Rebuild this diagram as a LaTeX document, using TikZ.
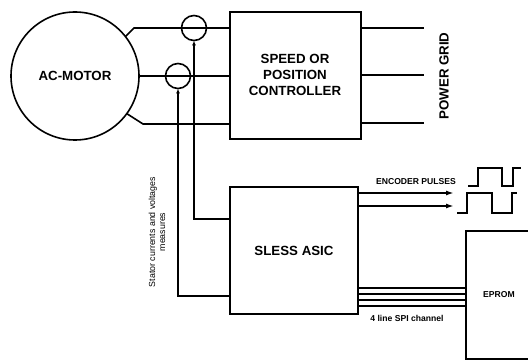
\documentclass[tikz,border=0pt]{standalone}
\usepackage{fontspec}
\setmainfont{Liberation Sans}
\usetikzlibrary{arrows.meta}
\begin{document}
\begin{tikzpicture}[x=1pt,y=-1pt,
  line width=1.6pt, line join=miter,
  box/.style={draw, rectangle, inner sep=0pt, outer sep=0pt},
  sensor/.style={draw, circle, minimum size=25pt, inner sep=0pt, outer sep=0pt},
  big/.style={font=\bfseries\fontsize{13.3}{16}\selectfont, align=center, inner sep=0pt},
  small/.style={font=\bfseries\fontsize{8.6}{10}\selectfont, inner sep=0pt},
  note/.style={font=\fontsize{8.8}{10}\selectfont, align=center, inner sep=0pt},
  sense/.style={-{Latex[length=5pt,width=4pt]}},
  enc/.style={-{Latex[length=8pt,width=5pt]}},
  wire/.style={}]
\useasboundingbox (0,0) rectangle (528,361);
\fill[white] (0,0) rectangle (528,361);

% blocks
\node[draw, circle, minimum size=128pt, inner sep=0pt, outer sep=0pt] (motor) at (75,76) {};
\node[big] (motorlabel) at (75,76) {AC-MOTOR};
\node[box, minimum width=131pt, minimum height=127pt] (ctrl) at (295.5,75.5) {};
\node[big] (ctrllabel) at (295,75) {SPEED OR\\POSITION\\CONTROLLER};
\node[box, minimum width=128pt, minimum height=127pt] (asic) at (294,250.5) {};
\node[big] (asiclabel) at (294,251) {SLESS ASIC};
\node[box, minimum width=80pt, minimum height=128pt] (eprom) at (506,295) {};
\node[small] (epromlabel) at (499,295) {EPROM};

% motor to controller wires
\coordinate (tA) at (134,28);
\coordinate (bA) at (143,124);
\draw[wire] (motor.38) -- (tA) -- (tA -| ctrl.west);
\draw[wire] (motor.east) -- (motor.east -| ctrl.west);
\draw[wire] (motor.-36) -- (bA) -- (bA -| ctrl.west);

% current sensors
\node[sensor] (s1) at (194,28) {};
\node[sensor] (s2) at (178,76) {};

% sensor feedback to ASIC
\coordinate (f1) at (230,219);
\coordinate (f2) at (230,296);
\draw[sense] (f1) -| (s1.south);
\draw[sense] (f2) -| (s2.south);

% power grid wires
\coordinate (g1) at (424,28);
\coordinate (g2) at (424,75);
\coordinate (g3) at (424,123);
\draw[wire] (ctrl.east |- g1) -- (g1);
\draw[wire] (ctrl.east |- g2) -- (g2);
\draw[wire] (ctrl.east |- g3) -- (g3);
\node[big, rotate=90] (gridlabel) at (444,76) {POWER GRID};

% encoder outputs
\coordinate (e1) at (454,193);
\coordinate (e2) at (454,206);
\draw[enc] (asic.east |- e1) -- (e1);
\draw[enc] (asic.east |- e2) -- (e2);
\node[small] (enclabel) at (416,181.5) {ENCODER PULSES};
\draw (468,186) -- (478,186) -- (478,168) -- (502,168) -- (502,186) -- (513,186) -- (513,168) -- (521,168);
\draw (457,213) -- (467,213) -- (467,193) -- (492,193) -- (492,213) -- (512,213) -- (512,193) -- (517,193);

% SPI channel
\foreach \yy [count=\i] in {288,294,300,306} {
  \coordinate (spi\i) at (300,\yy);
  \draw[line width=1.3pt] (asic.east |- spi\i) -- (eprom.west |- spi\i);
}
\node[small] (spilabel) at (407,318) {4 line SPI channel};

% stator label
\node[note, rotate=90] (statorlabel) at (157,232) {Stator currents and voltages\\measures};
\end{tikzpicture}
\end{document}
